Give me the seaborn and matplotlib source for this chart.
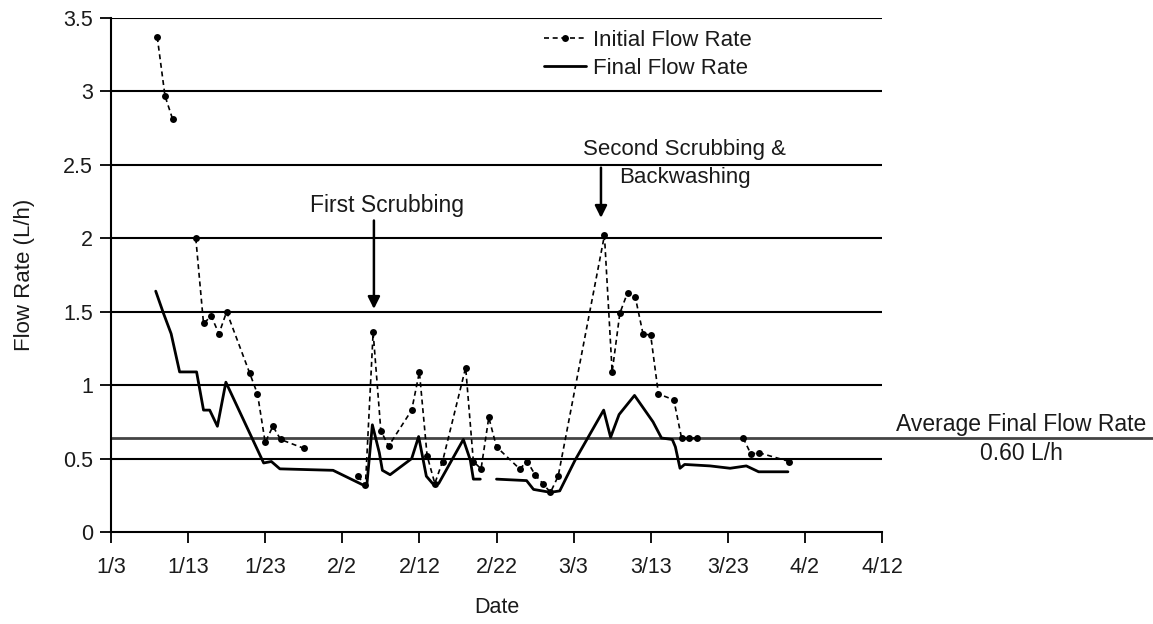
import matplotlib
matplotlib.use("Agg")
import matplotlib.pyplot as plt
from matplotlib.lines import Line2D
import seaborn as sns
import pandas as pd
import numpy as np

# ---- data (x = days since 1/3) ----
initial_days = [6, 7, 8, 11, 12, 13, 14, 15, 18, 19, 20, 21, 22, 25,
                32, 33, 34, 35, 36, 39, 40, 41, 42, 43, 46, 47, 48, 49, 50,
                53, 54, 55, 56, 57, 58, 64, 65, 66, 67, 68, 69, 70, 71, 73, 74, 75, 76,
                82, 83, 84, 88]
initial_rate = [3.37, 2.97, 2.81, 2.00, 1.42, 1.47, 1.35, 1.50, 1.08, 0.94, 0.61, 0.72, 0.63, 0.57,
                0.38, 0.32, 1.36, 0.69, 0.585, 0.83, 1.09, 0.52, 0.33, 0.48, 1.12, 0.48, 0.43, 0.78, 0.58,
                0.43, 0.48, 0.39, 0.33, 0.27, 0.38, 2.02, 1.09, 1.49, 1.63, 1.60, 1.35, 1.34, 0.94, 0.90, 0.64, 0.64, 0.64,
                0.64, 0.53, 0.54, 0.48]
initial_seg = [0] * 3 + [1] * 11 + [2] * 33 + [3] * 4

final_days = [5.8, 6.8, 7.8, 8.9, 11.1, 12.0, 12.8, 13.8, 14.9, 19.8, 20.8, 21.9, 28.8, 32.7, 33.2,
              33.9, 34.8, 35.2, 36.2, 39.0, 39.9, 40.9, 41.8, 42.5, 45.7, 46.6, 47.0, 47.9,
              50.0, 53.9, 54.8, 57.0, 58.2, 60.2, 63.9, 64.8, 65.9, 67.9, 70.3, 71.4, 72.8, 73.2, 73.8,
              74.4, 77.7, 80.3, 82.4, 84.0, 87.8]
final_rate = [1.64, 1.49, 1.35, 1.09, 1.09, 0.83, 0.83, 0.72, 1.02, 0.47, 0.48, 0.43, 0.42, 0.32, 0.33,
              0.73, 0.54, 0.42, 0.39, 0.50, 0.65, 0.38, 0.325, 0.33, 0.63, 0.49, 0.36, 0.36,
              0.36, 0.35, 0.29, 0.27, 0.28, 0.49, 0.83, 0.645, 0.80, 0.93, 0.75, 0.64, 0.63, 0.58, 0.434,
              0.46, 0.45, 0.434, 0.45, 0.41, 0.41]
final_seg = [0] * 28 + [1] * 21

avg_final = 0.643
tick_days = [0, 10, 20, 30, 40, 50, 60, 70, 80, 90, 100]
tick_labels = ["1/3", "1/13", "1/23", "2/2", "2/12", "2/22", "3/3", "3/13", "3/23", "4/2", "4/12"]
y_ticks = [0, 0.5, 1, 1.5, 2, 2.5, 3, 3.5]
y_tick_labels = ["0", "0.5", "1", "1.5", "2", "2.5", "3", "3.5"]

# ---- style ----
sns.set_theme(style="white")
plt.rcParams["font.family"] = ["Liberation Sans", "DejaVu Sans"]
FS = 15.5
TXT = "#1a1a1a"

W, H = 1153, 624
fig = plt.figure(figsize=(W / 100, H / 100), dpi=100)
L, R, B, T = 111, 882, 532, 18
ax = fig.add_axes([L / W, 1 - B / H, (R - L) / W, (B - T) / H])

df_i = pd.DataFrame({"day": initial_days, "rate": initial_rate, "seg": initial_seg})
df_f = pd.DataFrame({"day": final_days, "rate": final_rate, "seg": final_seg})

# gridlines
for yv in y_ticks[1:]:
    ax.axhline(yv, color="black", lw=1.5, zorder=1)
# average line extending past the axes
ax.axhline(avg_final, xmin=0, xmax=(W - L) / (R - L), color="#444444", lw=2.0,
           clip_on=False, zorder=1)

sns.lineplot(data=df_f, x="day", y="rate", units="seg", estimator=None, ax=ax,
             color="black", lw=2.0, sort=False, zorder=3)
sns.lineplot(data=df_i, x="day", y="rate", units="seg", estimator=None, ax=ax,
             color="black", lw=1.2, linestyle=(0, (3, 2.2)), marker="o", markersize=5,
             markeredgewidth=0, sort=False, zorder=4)

ax.set_xlim(0, 100)
ax.set_ylim(0, 3.5)
ax.set_xticks(tick_days)
ax.set_xticklabels(tick_labels, fontsize=FS)
ax.set_yticks(y_ticks)
ax.set_yticklabels(y_tick_labels, fontsize=FS)
ax.tick_params(axis="both", direction="out", length=8, width=1.3, color="black",
               labelcolor=TXT, bottom=True, left=True)
ax.tick_params(axis="x", pad=10)
ax.tick_params(axis="y", pad=5)
ax.set_xlabel("Date", fontsize=FS, labelpad=14, color=TXT)
ax.set_ylabel("Flow Rate (L/h)", fontsize=FS + 0.5, labelpad=20, color=TXT)
for s in ["top", "right"]:
    ax.spines[s].set_visible(False)
for s in ["left", "bottom"]:
    ax.spines[s].set_color("black")
    ax.spines[s].set_linewidth(1.5)

# annotations
ax.annotate("", xy=(34.1, 1.5), xytext=(34.1, 2.14),
            arrowprops=dict(arrowstyle="-|>", color="black", lw=1.8, mutation_scale=18))
ax.text(35.8, 2.22, "First Scrubbing", fontsize=FS + 1, ha="center", va="center", color=TXT)
ax.annotate("", xy=(63.55, 2.12), xytext=(63.55, 2.50),
            arrowprops=dict(arrowstyle="-|>", color="black", lw=1.8, mutation_scale=18))
ax.text(74.4, 2.51, "Second Scrubbing &\nBackwashing", fontsize=FS + 0.5, ha="center",
        va="center", linespacing=1.45, color=TXT)

fig.text(1021 / W, 1 - 424 / H, "Average Final Flow Rate", fontsize=FS + 1,
         ha="center", va="center", color=TXT)
fig.text(1021 / W, 1 - 454 / H, "0.60 L/h", fontsize=FS + 1, ha="center", va="center",
         color=TXT)

handles = [
    Line2D([], [], color="black", lw=1.2, linestyle=(0, (3, 2.2)), marker="o",
           markersize=5, markeredgewidth=0),
    Line2D([], [], color="black", lw=2.0),
]
leg = ax.legend(handles, ["Initial Flow Rate", "Final Flow Rate"], loc="upper left",
                bbox_to_anchor=(0.536, 1.0156), frameon=False, fontsize=16,
                handlelength=1.9, handletextpad=0.3, labelspacing=0.3)
for t in leg.get_texts():
    t.set_color(TXT)

fig.savefig("out.png", dpi=100, facecolor="white")
